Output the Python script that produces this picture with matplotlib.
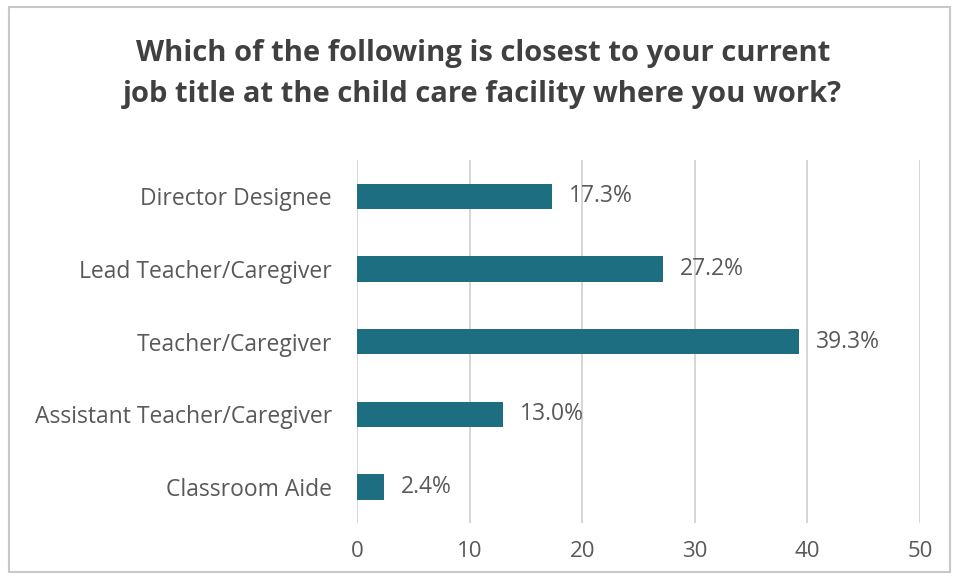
import matplotlib.pyplot as plt
from matplotlib.patches import Rectangle

categories = ["Director Designee", "Lead Teacher/Caregiver", "Teacher/Caregiver",
              "Assistant Teacher/Caregiver", "Classroom Aide"]
percents = [17.3, 27.2, 39.3, 13.0, 2.4]
xticks = [0, 10, 20, 30, 40, 50]

plt.rcParams['font.family'] = ['Open Sans', 'DejaVu Sans']

fig = plt.figure(figsize=(9.56, 5.8), dpi=100)
ax = fig.add_axes([0.3734, 0.098, 0.5889, 0.626])

ypos = list(range(len(categories)))
ax.barh(ypos, percents, height=0.35, color="#1c6e80", zorder=3)
for y, v in zip(ypos, percents):
    ax.text(v + 1.5, y, f"{v:.1f}%", va="center", ha="left",
            fontsize=16.5, color="#595959")

ax.set_xlim(0, 50)
ax.set_ylim(len(categories) - 0.5, -0.5)
ax.set_xticks(xticks)
ax.set_xticklabels([str(t) for t in xticks], fontsize=16, color="#595959")
ax.set_yticks(ypos)
ax.set_yticklabels(categories, fontsize=16.5, color="#595959")
ax.tick_params(axis="both", length=0)
ax.tick_params(axis="x", pad=13)
ax.tick_params(axis="y", pad=18)
ax.grid(axis="x", color="#d0d0d0", linewidth=1.2, zorder=0)
for s in ax.spines.values():
    s.set_visible(False)

fig.text(0.505, 0.873, "Which of the following is closest to your current\n"
         "job title at the child care facility where you work?",
         ha="center", va="center", fontsize=21, fontweight="bold",
         color="#404040", linespacing=1.55)

# light frame around the chart
fig.patches.append(Rectangle((0.009, 0.013), 0.985, 0.975, transform=fig.transFigure,
                             fill=False, edgecolor="#c8c8c8", linewidth=1.5))

fig.savefig("out.png", dpi=100, facecolor="white")
